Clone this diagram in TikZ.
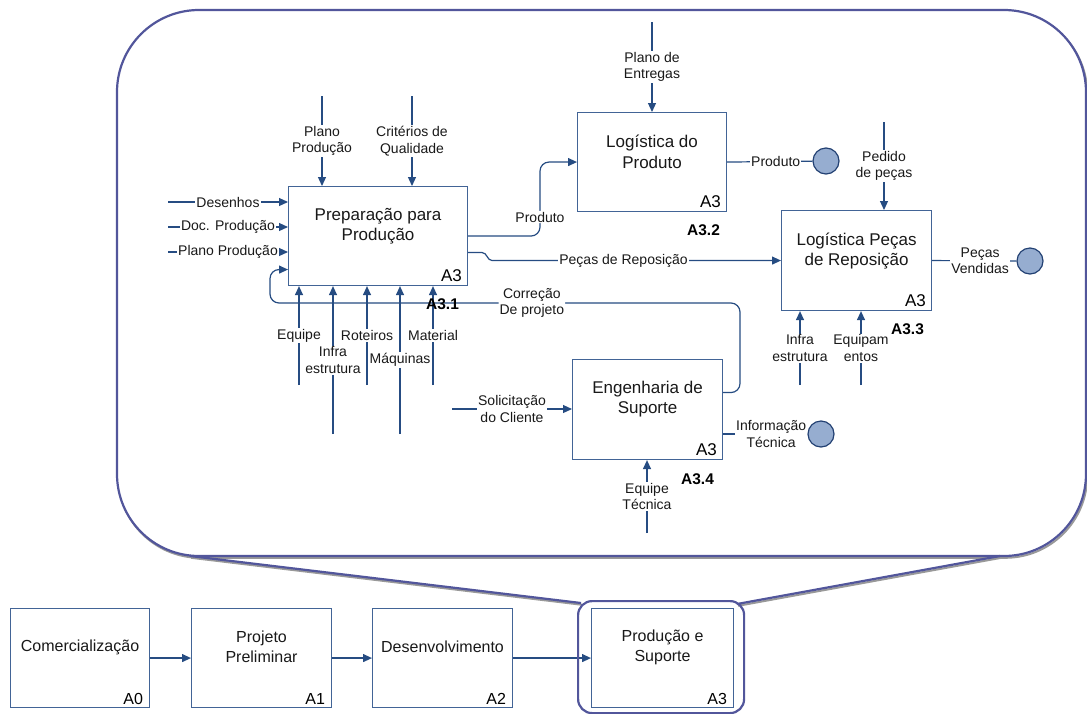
\documentclass[tikz,border=0pt]{standalone}
\usepackage{fontspec}
\setmainfont{Liberation Sans}
\usetikzlibrary{arrows.meta,calc}
\definecolor{linkblue}{RGB}{38,76,130}
\definecolor{boxblue}{RGB}{66,100,150}
\definecolor{dotfill}{RGB}{150,173,208}
\definecolor{dotline}{RGB}{35,65,115}
\definecolor{callout}{RGB}{82,86,155}
\newcommand{\titlefont}{\fontsize{17}{20.5}\selectfont}
\newcommand{\rowfont}{\fontsize{16}{20}\selectfont}
\newcommand{\labelfont}{\fontsize{14}{16.7}\selectfont}
\newcommand{\tagfont}{\fontsize{15.5}{18}\selectfont\bfseries}
\begin{document}
\begin{tikzpicture}[x=1pt,y=-1pt,
  actbox/.style={draw=boxblue,line width=1.1pt,fill=white,inner sep=0,anchor=north west},
  title/.style={font=\titlefont,align=center,text=black!90,inner sep=0},
  rowtitle/.style={font=\rowfont,align=center,text=black!90,inner sep=0},
  corner/.style={font=\fontsize{17}{20}\selectfont,anchor=south east,inner sep=0},
  rowcorner/.style={font=\rowfont,anchor=south east,inner sep=0},
  tag/.style={font=\tagfont,anchor=east,inner sep=0},
  lbl/.style={font=\labelfont,align=center,fill=white,inner sep=1pt,text=black!90},
  conn/.style={draw=linkblue,line width=1.2pt},
  arr/.style={conn,-{Triangle[length=9pt,width=8pt]}},
  dot/.style={circle,draw=dotline,line width=1.2pt,fill=dotfill,minimum size=26pt,inner sep=0},
  balloon/.style={draw=callout,line width=2.2pt},
  shade/.style={draw=black!40,line width=2pt},
]
\useasboundingbox (0,0) rectangle (1087,713);

% ---- callout balloon (shadow, then outline) ----
\begin{scope}[shift={(1.2,1.8)}]
  \draw[shade,rounded corners=82] (117,10) rectangle (1086,556);
  \draw[shade] (190,556) -- (581,603) (1000,556) -- (737,604);
\end{scope}
\draw[balloon,fill=white,rounded corners=82] (117,10) rectangle (1086,556);
\draw[balloon] (190,556) -- (581,603) (1000,556) -- (737,604);

% ---- top level chain ----
\node[actbox,minimum width=139pt,minimum height=99pt] (b0) at (10,608) {};
\node[actbox,minimum width=140pt,minimum height=99pt] (b1) at (191,608) {};
\node[actbox,minimum width=140pt,minimum height=99pt] (b2) at (372,608) {};
\node[actbox,minimum width=142pt,minimum height=99pt] (b3) at (591,608) {};
\node[rowtitle] at ([yshift=-39pt]b0.north) {Comercialização};
\node[rowtitle] at ([yshift=-39pt]b1.north) {Projeto\\Preliminar};
\node[rowtitle] at ([yshift=-39pt]b2.north) {Desenvolvimento};
\node[rowtitle] at ([yshift=-39pt]b3.north) {Produção e\\Suporte};
\node[rowcorner] at ([xshift=-7pt,yshift=3pt]b0.south east) {A0};
\node[rowcorner] at ([xshift=-7pt,yshift=3pt]b1.south east) {A1};
\node[rowcorner] at ([xshift=-7pt,yshift=3pt]b2.south east) {A2};
\node[rowcorner] at ([xshift=-7pt,yshift=3pt]b3.south east) {A3};
\draw[arr] (b0) -- (b1);
\draw[arr] (b1) -- (b2);
\draw[arr] (b2) -- (b3);
\node[draw=callout,line width=2.2pt,rounded corners=14,minimum width=166pt,
      minimum height=112pt,inner sep=0,anchor=north west] (hl) at (577,600) {};

% ---- decomposition of A3 ----
\node[actbox,minimum width=179pt,minimum height=99pt]  (p1) at (288,186) {};
\node[actbox,minimum width=149pt,minimum height=99pt]  (p2) at (577,112) {};
\node[actbox,minimum width=150pt,minimum height=100pt] (p3) at (781,210) {};
\node[actbox,minimum width=150pt,minimum height=100pt] (p4) at (572,359) {};

\node[title] at ([yshift=-40pt]p1.north) {Preparação para\\Produção};
\node[title] at ([yshift=-40pt]p2.north) {Logística do\\Produto};
\node[title] at ([yshift=-41pt]p3.north) {Logística Peças\\de Reposição};
\node[title] at ([yshift=-40pt]p4.north) {Engenharia de\\Suporte};

\node[corner] at ([xshift=-6pt,yshift=4pt]p1.south east) {A3};
\node[corner] at ([xshift=-6pt,yshift=4pt]p2.south east) {A3};
\node[corner] at ([xshift=-6pt,yshift=4pt]p3.south east) {A3};
\node[corner] at ([xshift=-6pt,yshift=4pt]p4.south east) {A3};

% outputs
\node[dot] (o1) at (826,161) {};
\node[dot] (o2) at (1030,261) {};
\node[dot] (o3) at (821,434) {};

% free ends of the arrows
\coordinate (c1) at (322,96);
\coordinate (c2) at (412,96);
\coordinate (c3) at (652,22);
\coordinate (c4) at (884,122);
\coordinate (i1) at (168,202);
\coordinate (i2) at (168,227);
\coordinate (i3) at (168,252);
\coordinate (i4) at (452,409);
\coordinate (m1) at (299,385);
\coordinate (m2) at (333,434);
\coordinate (m3) at (367,385);
\coordinate (m4) at (400,434);
\coordinate (m5) at (433,385);
\coordinate (m6) at (800,385);
\coordinate (m7) at (861,385);
\coordinate (m8) at (647,533);
\coordinate (jp) at (540,200);
\coordinate (fbR) at (740,303);
\coordinate (fbL) at (270,303);

% feedback loop from A3.4 back to A3.1
\draw[arr,rounded corners=9] ([yshift=17pt]p4.east) -| (fbR)
  -- node[lbl,pos=0.443] {Correção\\De projeto} (fbL)
  |- ([yshift=-33.5pt]p1.west);

% controls
\draw[arr] (c1) -- node[lbl] {Plano\\Produção} (c1 |- p1.north);
\draw[arr] (c2) -- node[lbl] {Critérios de\\Qualidade} (c2 |- p1.north);
\draw[arr] (c3) -- node[lbl] {Plano de\\Entregas} (c3 |- p2.north);
\draw[arr] (c4) -- node[lbl] {Pedido\\de peças} (c4 |- p3.north);

% inputs
\draw[arr] (i1) -- node[lbl] {Desenhos} (i1 -| p1.west);
\draw[arr] (i2) -- node[lbl] {Doc. Produção} (i2 -| p1.west);
\draw[arr] (i3) -- node[lbl] {Plano Produção} (i3 -| p1.west);
\draw[arr] (i4) -- node[lbl] {Solicitação\\do Cliente} (i4 -| p4.west);

% mechanisms
\draw[arr] (m1) -- node[lbl] {Equipe} (m1 |- p1.south);
\draw[arr] (m2) -- node[lbl] {Infra\\estrutura} (m2 |- p1.south);
\draw[arr] (m3) -- node[lbl] {Roteiros} (m3 |- p1.south);
\draw[arr] (m4) -- node[lbl] {Máquinas} (m4 |- p1.south);
\draw[arr] (m5) -- node[lbl] {Material} (m5 |- p1.south);
\draw[arr] (m6) -- node[lbl] {Infra\\estrutura} (m6 |- p3.south);
\draw[arr] (m7) -- node[lbl] {Equipam\\entos} (m7 |- p3.south);
\draw[arr] (m8) -- node[lbl] {Equipe\\Técnica} (m8 |- p4.south);

% flows between activities
\draw[arr,rounded corners=9] (p1.east) -| (jp)
  node[lbl,yshift=-17pt] {Produto} |- (p2.west);
\draw[arr] ([yshift=-16.5pt]p1.east) -- ++(14,0) to[out=0,in=180] ++(10,8)
  -- node[lbl,pos=0.455] {Peças de Reposição} (p3.west);

% outputs to the outside
\draw[conn] (p2.east) -- node[lbl,pos=0.57] {Produto} (o1);
\draw[conn] (p3.east) -- node[lbl,pos=0.57] {Peças\\Vendidas} (o2);
\draw[conn] (o3 -| p4.east) -- node[lbl,pos=0.57] {Informação\\Técnica} (o3);

% activity numbers
\node[tag] at ([xshift=-9pt,yshift=-18pt]p1.south east) {A3.1};
\node[tag] at ([xshift=-7pt,yshift=-18pt]p2.south east) {A3.2};
\node[tag] at ([xshift=-8pt,yshift=-18pt]p3.south east) {A3.3};
\node[tag] at ([xshift=-9pt,yshift=-19pt]p4.south east) {A3.4};
\end{tikzpicture}
\end{document}
